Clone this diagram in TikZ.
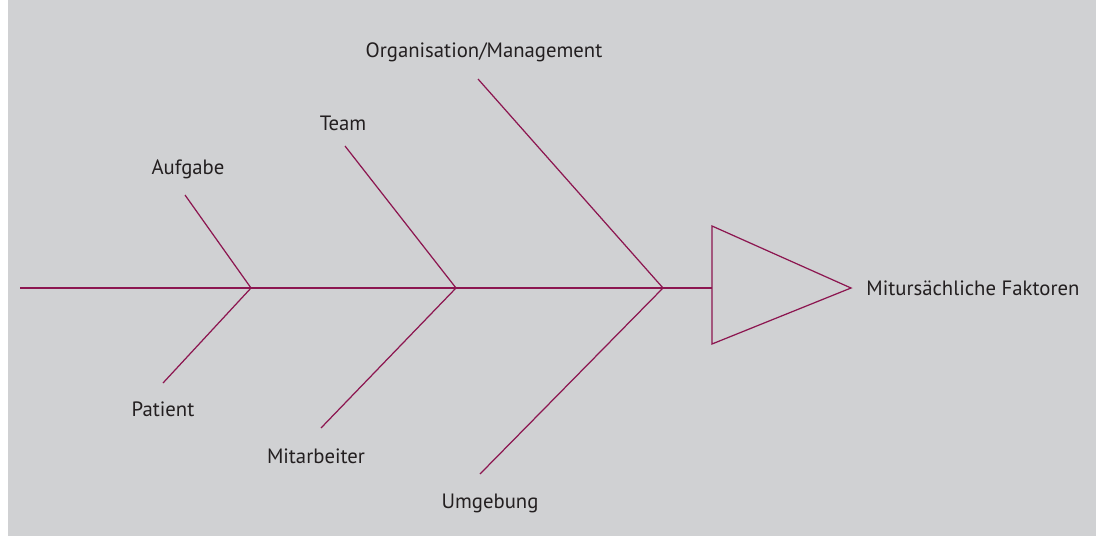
\documentclass[tikz,border=0pt]{standalone}
\usepackage{fontspec}
\setmainfont{PT Sans}
\usepackage{tikz}
\usetikzlibrary{positioning}
\definecolor{bonegray}{RGB}{208,209,211}
\definecolor{bonered}{RGB}{140,22,80}
\definecolor{bonetext}{RGB}{35,31,32}
\tikzset{
	bone/.style={draw=bonered, line width=0.7pt},
	bonelabel/.style={text=bonetext, font=\fontsize{11.8}{13}\selectfont, inner sep=0pt},
}
\begin{document}
\begin{tikzpicture}[x=0.02cm, y=-0.02cm]
		
		\useasboundingbox (0, 0) rectangle (1101, 537);
		\fill[bonegray] (8, 0) rectangle (1096, 536);
		
		\coordinate (tail) at (20, 288);
		\coordinate (jointA) at (251, 288);
		\coordinate (jointB) at (456, 288);
		\coordinate (jointC) at (663, 288);
		\coordinate (headbase) at (712, 288);
		\coordinate (headtop) at (712, 226);
		\coordinate (headbottom) at (712, 344);
		\coordinate (headtip) at (851, 288);
		
		\coordinate (aufgabeend) at (185, 195);
		\coordinate (patientend) at (163, 383);
		\coordinate (teamend) at (345, 146);
		\coordinate (mitarbeiterend) at (321, 428);
		\coordinate (organisationend) at (478, 79);
		\coordinate (umgebungend) at (480, 474);
		
		\node[bonelabel] (aufgabe) at (188, 169) {Aufgabe};
		\node[bonelabel] (patient) at (163, 409) {Patient};
		\node[bonelabel] (team) at (343, 123) {Team};
		\node[bonelabel] (mitarbeiter) at (316, 456) {Mitarbeiter};
		\node[bonelabel] (organisation) at (484, 52) {Organisation/Management};
		\node[bonelabel] (umgebung) at (490, 503) {Umgebung};
		\node[bonelabel, anchor=west] (faktoren) at (866, 288) {Mitursächliche Faktoren};
		
		\draw[bone] (tail) -- (jointA) -- (jointB) -- (jointC) -- (headbase);
		\draw[bone] (aufgabeend) -- (jointA) -- (patientend);
		\draw[bone] (teamend) -- (jointB) -- (mitarbeiterend);
		\draw[bone] (organisationend) -- (jointC) -- (umgebungend);
		\draw[bone, line join=miter] (headtop) -- (headtip) -- (headbottom) -- cycle;
		
	\end{tikzpicture}
\end{document}
